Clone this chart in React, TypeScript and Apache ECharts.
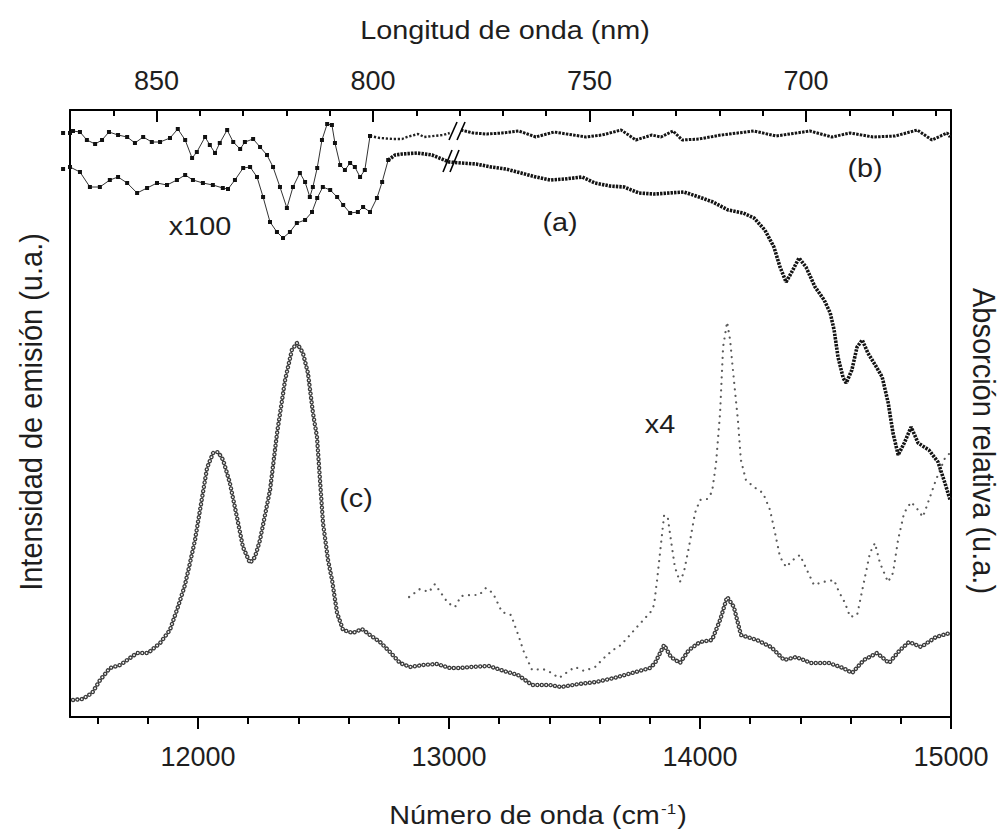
import React, { useEffect, useRef } from "react";
import * as echarts from "echarts";

// ---- bottom axis: wavenumber (cm-1) ----
const WN_MIN = 11490;
const WN_MAX = 15000;
const WN_MAJOR = [12000, 13000, 14000, 15000];
const WN_MINOR = [11600, 11800, 12200, 12400, 12600, 12800, 13200, 13400, 13600, 13800, 14200, 14400, 14600, 14800];

// ---- top axis: wavelength (nm) ----
const NM_MIN = 666.5;
const NM_MAX = 870;
const NM_MAJOR = [700, 750, 800, 850];
const NM_MINOR = [670, 680, 690, 710, 720, 730, 740, 760, 770, 780, 790, 810, 820, 830, 840, 860];

// y scale (arbitrary units)
const Y_MAX = 607;

// (c) emission spectrum [wavenumber, intensity]
const EMISSION_C: [number, number][] = [
  [11502, 17], [11540, 18], [11578, 24], [11610, 37], [11649, 49], [11690, 52], [11757, 64], [11801, 64],
  [11849, 74], [11888, 87], [11920, 110], [11948, 132], [11968, 154], [11988, 177], [12008, 207], [12036, 249],
  [12060, 264], [12080, 265], [12100, 257], [12127, 234], [12155, 200], [12179, 170], [12207, 154], [12227, 160],
  [12247, 177], [12287, 227], [12315, 284], [12347, 337], [12374, 367], [12394, 374], [12418, 364], [12438, 344],
  [12458, 304], [12474, 280], [12486, 237], [12498, 194], [12518, 157], [12534, 137], [12554, 104], [12578, 87],
  [12617, 84], [12653, 88], [12685, 82], [12725, 75], [12765, 65], [12805, 54], [12845, 50], [12896, 52],
  [12952, 53], [13004, 49], [13044, 49], [13088, 50], [13159, 51], [13219, 46], [13275, 42], [13331, 32],
  [13402, 32], [13446, 30], [13518, 33], [13586, 35], [13657, 39], [13729, 44], [13801, 49], [13821, 54],
  [13857, 72], [13884, 60], [13920, 54], [13956, 67], [14000, 75], [14048, 77], [14080, 97], [14108, 120],
  [14135, 110], [14163, 82], [14227, 77], [14283, 70], [14335, 57], [14383, 60], [14442, 54], [14514, 54],
  [14570, 49], [14606, 44], [14653, 57], [14705, 64], [14753, 54], [14797, 67], [14833, 75], [14881, 70],
  [14940, 80], [14996, 84],
];

// (c) x4 magnified part [wavenumber, intensity]
const EMISSION_C_X4: [number, number][] = [
  [12841, 120], [12884, 128], [12920, 125], [12944, 133], [12968, 124], [12996, 114], [13024, 110], [13048, 121],
  [13084, 122], [13120, 122], [13147, 129], [13175, 124], [13211, 105], [13247, 102], [13283, 77], [13295, 67],
  [13331, 47], [13374, 48], [13402, 45], [13438, 39], [13466, 44], [13502, 50], [13538, 46], [13582, 50],
  [13617, 59], [13653, 67], [13685, 72], [13721, 82], [13745, 89], [13785, 100], [13801, 104], [13817, 112],
  [13829, 137], [13845, 174], [13857, 202], [13872, 199], [13884, 177], [13900, 150], [13920, 135], [13936, 145],
  [13956, 170], [13980, 204], [14000, 217], [14028, 218], [14048, 225], [14064, 254], [14080, 304], [14092, 370],
  [14108, 395], [14120, 377], [14135, 337], [14151, 297], [14163, 257], [14183, 237], [14215, 230], [14251, 224],
  [14279, 207], [14299, 184], [14319, 160], [14343, 150], [14370, 157], [14398, 162], [14426, 147], [14454, 132],
  [14490, 135], [14534, 137], [14554, 125], [14578, 114], [14598, 100], [14626, 102], [14649, 130], [14677, 164],
  [14697, 174], [14717, 154], [14749, 135], [14769, 144], [14789, 177], [14813, 204], [14841, 215], [14869, 207],
  [14888, 200], [14912, 217], [14940, 237], [14976, 259], [14996, 264],
];

// (a) absorption, x100 part [nm, absorption]
const ABS_A_X100: [number, number][] = [
  [871.6, 548], [870.0, 550], [867.7, 545], [865.4, 530], [863.1, 530], [860.8, 537], [858.9, 540], [856.8, 534], [854.5, 524],
  [852.2, 529], [849.9, 534], [847.6, 532], [845.3, 537], [843.4, 542], [841.6, 537], [839.3, 534], [837.0, 532],
  [834.7, 529], [833.5, 528], [831.9, 537], [830.0, 549], [828.4, 550], [826.8, 540], [825.4, 520], [823.8, 495],
  [822.2, 485], [820.8, 479], [819.2, 485], [817.6, 494], [815.7, 497], [814.1, 505], [812.9, 519], [811.6, 530],
  [809.9, 527], [808.3, 520], [806.9, 512], [805.3, 504], [803.5, 505], [802.3, 510], [800.7, 505], [799.1, 519],
  [797.9, 535], [796.5, 557],
];

// (a) absorption, main part [nm, absorption]
const ABS_A: [number, number][] = [
  [796.5, 557], [794.9, 562], [793.3, 563], [789.8, 564], [786.4, 562], [782.4, 555], [779.7, 554], [776.2, 553],
  [772.7, 550], [769.3, 548], [765.8, 544], [762.4, 540], [759.1, 537], [755.7, 538], [751.7, 540], [748.7, 534],
  [745.3, 531], [742.0, 530], [738.6, 524], [735.1, 523], [731.6, 524], [728.2, 525], [724.7, 520], [721.5, 515],
  [718.0, 507], [714.5, 504], [712.0, 499], [709.5, 487], [707.4, 470], [706.0, 450], [704.6, 435], [703.4, 444],
  [701.6, 459], [700.0, 450], [697.9, 430], [695.8, 417], [694.4, 404], [693.5, 387], [692.6, 360], [691.4, 339],
  [690.7, 334], [689.4, 347], [688.2, 370], [687.0, 377], [685.7, 364], [684.0, 352], [682.4, 340], [681.0, 314],
  [679.9, 284], [678.7, 262], [677.3, 274], [675.7, 290], [674.1, 274], [671.6, 267], [669.5, 255], [667.9, 234],
  [666.7, 217],
];

// (b) absorption, x100 part [nm, absorption]
const ABS_B_X100: [number, number][] = [
  [871.6, 584], [870.0, 584], [869.3, 586], [867.7, 585], [866.1, 577], [864.2, 573], [862.6, 577], [861.0, 585], [858.9, 582],
  [856.8, 580], [855.0, 574], [853.1, 580], [851.1, 575], [849.2, 575], [846.9, 579], [845.1, 588], [843.4, 577],
  [841.8, 559], [840.7, 565], [838.8, 580], [837.7, 572], [836.5, 564], [835.4, 574], [833.7, 587], [832.3, 575],
  [830.7, 568], [829.6, 575], [827.7, 578], [826.1, 570], [824.5, 562], [823.1, 550], [821.5, 530], [819.9, 509],
  [818.5, 530], [816.9, 544], [815.7, 535], [814.6, 520], [813.9, 530], [812.9, 549], [811.8, 577], [810.6, 593],
  [809.5, 592], [808.8, 574], [807.6, 552], [806.5, 547], [805.3, 554], [804.2, 550], [803.0, 540], [801.9, 547],
  [800.7, 581],
];

// (b) absorption before the axis break [nm, absorption]
const ABS_B_BEFORE_BREAK: [number, number][] = [
  [800.7, 581], [798.4, 579], [795.4, 578], [793.3, 578], [792.2, 580], [789.6, 583], [788.2, 580], [783.8, 582],
  [782.3, 584],
];

// (b) absorption after the axis break [nm, absorption]
const ABS_B_AFTER_BREAK: [number, number][] = [
  [779.7, 587], [776.9, 584], [773.7, 583], [770.2, 584], [766.3, 586], [762.4, 580], [758.2, 585], [753.8, 582],
  [750.8, 580], [747.1, 582], [742.7, 587], [739.3, 577], [735.6, 582], [733.5, 580], [730.7, 586], [728.6, 577],
  [724.7, 578], [719.6, 582], [712.0, 586], [706.9, 581], [699.1, 586], [694.0, 580], [689.8, 584], [684.5, 580],
  [679.4, 581], [674.3, 587], [670.9, 577], [667.4, 584], [666.7, 580],
];

// break marks "//" [nm, absorption] segment ends
const BREAK_B: [number, number][][] = [
  [[782.45, 577], [780.6, 595]],
  [[780.6, 577], [778.75, 595]],
];
const BREAK_A: [number, number][][] = [
  [[783.84, 545], [781.76, 567]],
  [[782.22, 545], [780.14, 567]],
];

const FONT = '"Liberation Sans", Arial, Helvetica, sans-serif';
const TXT = "#1e1e1e";
const AXIS_FS = 27;
const FS = 25.5;
const STRETCH = 1.13;

function textEl(text: string, x: number, y: number, opts: any = {}) {
  const { rotation = 0, fontSize = FS, scaleX = STRETCH, scaleY = 1, extra = {} } = opts;
  return {
    type: "text",
    x,
    y,
    rotation,
    scaleX,
    scaleY,
    silent: true,
    style: {
      text,
      fill: TXT,
      font: `${fontSize}px ${FONT}`,
      fontSize,
      fontFamily: FONT,
      align: "center",
      verticalAlign: "middle",
      textAlign: "center",
      textVerticalAlign: "middle",
      ...extra,
    },
  };
}

export default function App() {
  const ref = useRef<HTMLDivElement>(null);

  useEffect(() => {
    document.body.style.margin = "0";
    if (!ref.current) return;
    const chart = echarts.init(ref.current, null, { renderer: "svg" });

    const axisLineStyle = { color: "#000", width: 2 };
    const labelStyle = { fontSize: AXIS_FS, fontFamily: FONT, color: TXT, formatter: (v: number) => String(v) };
    const toMarkLine = (segs: [number, number][][]) =>
      segs.map((s) => [{ coord: s[0] }, { coord: s[1] }]);

    const option: any = {
      animation: false,
      backgroundColor: "#fff",
      grid: { left: 70, top: 110, width: 881, height: 607, containLabel: false },
      xAxis: [
        {
          type: "value",
          position: "bottom",
          min: WN_MIN,
          max: WN_MAX,
          axisLine: { show: true, onZero: false, lineStyle: axisLineStyle },
          axisTick: { show: true, customValues: WN_MAJOR, length: 12, inside: false, lineStyle: { color: "#000", width: 2 } },
          axisLabel: { show: true, customValues: WN_MAJOR, margin: 26, ...labelStyle },
          splitLine: { show: false },
        },
        {
          type: "value",
          position: "bottom",
          min: WN_MIN,
          max: WN_MAX,
          axisLine: { show: false, onZero: false },
          axisTick: { show: true, customValues: WN_MINOR, length: 7, inside: false, lineStyle: { color: "#000", width: 2 } },
          axisLabel: { show: false },
          splitLine: { show: false },
        },
        {
          type: "value",
          position: "top",
          inverse: true,
          min: NM_MIN,
          max: NM_MAX,
          axisLine: { show: true, onZero: false, lineStyle: axisLineStyle },
          axisTick: { show: true, customValues: NM_MAJOR, length: 12, inside: true, lineStyle: { color: "#000", width: 2 } },
          axisLabel: { show: true, customValues: NM_MAJOR, margin: 16, ...labelStyle },
          splitLine: { show: false },
        },
        {
          type: "value",
          position: "top",
          inverse: true,
          min: NM_MIN,
          max: NM_MAX,
          axisLine: { show: false, onZero: false },
          axisTick: { show: true, customValues: NM_MINOR, length: 6, inside: true, lineStyle: { color: "#000", width: 2 } },
          axisLabel: { show: false },
          splitLine: { show: false },
        },
      ],
      yAxis: [
        {
          type: "value",
          position: "left",
          min: 0,
          max: Y_MAX,
          axisLine: { show: true, onZero: false, lineStyle: axisLineStyle },
          axisTick: { show: false },
          axisLabel: { show: false },
          splitLine: { show: false },
        },
        {
          type: "value",
          position: "right",
          min: 0,
          max: Y_MAX,
          axisLine: { show: true, onZero: false, lineStyle: axisLineStyle },
          axisTick: { show: false },
          axisLabel: { show: false },
          splitLine: { show: false },
        },
      ],
      series: [
        {
          name: "c-line",
          type: "line",
          xAxisIndex: 0,
          yAxisIndex: 0,
          data: EMISSION_C,
          symbol: "none",
          lineStyle: { color: "#8a8a8a", width: 0.8 },
          silent: true,
        },
        {
          name: "c-rings",
          type: "line",
          xAxisIndex: 0,
          yAxisIndex: 0,
          data: EMISSION_C,
          symbol: "none",
          lineStyle: { color: "#3c3c3c", width: 4.4, type: [0.01, 4.4], cap: "round" },
          silent: true,
        },
        {
          name: "c-ring-holes",
          type: "line",
          xAxisIndex: 0,
          yAxisIndex: 0,
          data: EMISSION_C,
          symbol: "none",
          lineStyle: { color: "#ffffff", width: 1.8, type: [0.01, 4.4], cap: "round" },
          silent: true,
        },
        {
          name: "c-x4",
          type: "line",
          xAxisIndex: 0,
          yAxisIndex: 0,
          data: EMISSION_C_X4,
          symbol: "none",
          lineStyle: { color: "#5a5a5a", width: 2.2, type: [0.01, 6.5], cap: "round" },
          silent: true,
        },
        {
          name: "a-x100",
          type: "line",
          xAxisIndex: 2,
          yAxisIndex: 1,
          data: ABS_A_X100,
          clip: false,
          symbol: "rect",
          symbolSize: 4,
          showAllSymbol: true,
          itemStyle: { color: "#111" },
          lineStyle: { color: "#333", width: 1 },
          silent: true,
        },
        {
          name: "a",
          type: "line",
          xAxisIndex: 2,
          yAxisIndex: 1,
          data: ABS_A,
          symbol: "none",
          lineStyle: { color: "#141414", width: 3.6, type: [2.4, 1.1], cap: "butt" },
          silent: true,
          markLine: {
            silent: true,
            symbol: ["none", "none"],
            label: { show: false },
            lineStyle: { color: "#000", width: 1.6, type: "solid" },
            data: toMarkLine(BREAK_A),
          },
        },
        {
          name: "b-x100",
          type: "line",
          xAxisIndex: 2,
          yAxisIndex: 1,
          data: ABS_B_X100,
          clip: false,
          symbol: "rect",
          symbolSize: 4,
          showAllSymbol: true,
          itemStyle: { color: "#111" },
          lineStyle: { color: "#333", width: 1 },
          silent: true,
        },
        {
          name: "b-before-break",
          type: "line",
          xAxisIndex: 2,
          yAxisIndex: 1,
          data: ABS_B_BEFORE_BREAK,
          symbol: "none",
          lineStyle: { color: "#222", width: 2.4, type: [2.2, 1.8], cap: "butt" },
          silent: true,
        },
        {
          name: "b",
          type: "line",
          xAxisIndex: 2,
          yAxisIndex: 1,
          data: ABS_B_AFTER_BREAK,
          symbol: "none",
          lineStyle: { color: "#161616", width: 3, type: [2.5, 1.2], cap: "butt" },
          silent: true,
          markLine: {
            silent: true,
            symbol: ["none", "none"],
            label: { show: false },
            lineStyle: { color: "#000", width: 1.6, type: "solid" },
            data: toMarkLine(BREAK_B),
          },
        },
      ],
      graphic: [
        textEl("Longitud de onda (nm)", 505, 30),
        textEl("Número de onda (cm{sup|-1})", 538, 815, {
          extra: {
            rich: { sup: { fontSize: 15, fontFamily: FONT, fill: TXT, verticalAlign: "top", padding: [0, 1, 12, 1] } },
          },
        }),
        textEl("Intensidad de emisión (u.a.)", 30, 412, { rotation: Math.PI / 2, fontSize: 29, scaleX: 1, scaleY: 1.1 }),
        textEl("Absorción relativa (u.a.)", 985, 441, { rotation: -Math.PI / 2, fontSize: 29, scaleX: 1, scaleY: 1.1 }),
        textEl("x100", 200, 226),
        textEl("(a)", 560, 222),
        textEl("(b)", 865, 168),
        textEl("(c)", 356, 498),
        textEl("x4", 660, 424),
      ],
    };

    chart.setOption(option);
    return () => chart.dispose();
  }, []);

  return <div ref={ref} style={{ width: 1008, height: 833 }} />;
}
